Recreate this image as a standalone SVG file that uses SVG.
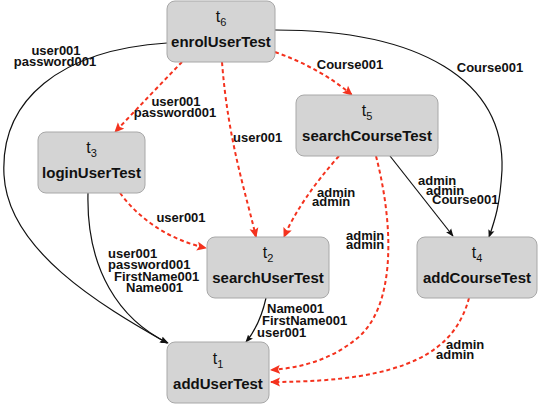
<svg xmlns="http://www.w3.org/2000/svg" width="538" height="404" viewBox="0 0 538 404">
<defs>
<style>
.node rect{fill:#d4d4d4;stroke:#a8a8a8;stroke-width:1}
.t{font-family:"Liberation Sans",Arial,sans-serif;font-size:16px;fill:#111;text-anchor:middle}
.sub{font-size:11px}
.nm{font-family:"Liberation Sans",Arial,sans-serif;font-size:15px;font-weight:bold;fill:#111;text-anchor:middle}
.lbl{font-family:"Liberation Sans",Arial,sans-serif;font-size:13px;font-weight:bold;fill:#111}
.mid{text-anchor:middle}
.blk{fill:none;stroke:#111;stroke-width:1.2;marker-end:url(#ab)}
.red{fill:none;stroke:#f4321e;stroke-width:2;stroke-dasharray:4 3;marker-end:url(#ar)}
</style>
<marker id="ab" viewBox="0 0 10 10" refX="9" refY="5" markerWidth="8" markerHeight="8" markerUnits="userSpaceOnUse" orient="auto">
<path d="M0,1 L10,5 L0,9 L2,5 z" fill="#111"/>
</marker>
<marker id="ar" viewBox="0 0 10 10" refX="9" refY="5" markerWidth="10" markerHeight="10" markerUnits="userSpaceOnUse" orient="auto">
<path d="M0,0.5 L10,5 L0,9.5 L2,5 z" fill="#f4321e"/>
</marker>
</defs>
<g id="connectors">
<path class="blk" d="M167,43 C60,50 0,100 4,175 S100,305 167,343"/>
<path class="red" d="M182,62 Q150,95 115,132"/>
<path class="red" d="M222,62 C228,140 245,190 256,237"/>
<path class="red" d="M275,52 Q320,68 352,95"/>
<path class="blk" d="M275,30 C420,30 505,80 502,170 C500,205 495,220 489,237"/>
<path class="red" d="M120,193 C140,220 170,240 206,248"/>
<path class="blk" d="M88,193 C86,270 120,320 168,343"/>
<path class="red" d="M339,156 Q300,200 284,237"/>
<path class="red" d="M376,156 C395,230 395,310 355,340 C330,360 300,368 271,370"/>
<path class="blk" d="M390,156 L453,236"/>
<path class="red" d="M469,298 C455,350 410,382 271,382"/>
<path class="blk" d="M266,298 Q260,325 246,342"/>
<text class="lbl mid" x="56" y="54.5">user001</text>
<text class="lbl mid" x="55" y="65.5">password001</text>
<text class="lbl mid" x="176" y="105.5">user001</text>
<text class="lbl mid" x="175" y="116.5">password001</text>
<text class="lbl" x="233" y="141.5">user001</text>
<text class="lbl mid" x="350" y="68.5">Course001</text>
<text class="lbl mid" x="490" y="71.5">Course001</text>
<text class="lbl mid" x="181" y="221.5">user001</text>
<text class="lbl" x="108" y="257.5">user001</text>
<text class="lbl" x="108" y="268.5">password001</text>
<text class="lbl" x="114" y="280.5">FirstName001</text>
<text class="lbl" x="126" y="291.5">Name001</text>
<text class="lbl" x="317" y="196.5">admin</text>
<text class="lbl" x="312" y="206">admin</text>
<text class="lbl" x="346" y="239.5">admin</text>
<text class="lbl" x="346" y="249">admin</text>
<text class="lbl" x="418" y="184.5">admin</text>
<text class="lbl" x="426" y="194.5">admin</text>
<text class="lbl" x="432" y="204">Course001</text>
<text class="lbl" x="446" y="348.5">admin</text>
<text class="lbl" x="436" y="358.5">admin</text>
<text class="lbl" x="267" y="312.5">Name001</text>
<text class="lbl" x="262" y="325">FirstName001</text>
<text class="lbl" x="257" y="337">user001</text>
</g>
<g id="t6" class="node">
<rect x="167" y="1" width="108" height="61" rx="8"/>
<text class="t" x="221" y="22">t<tspan class="sub" dy="4">6</tspan></text>
<text class="nm" x="221" y="47">enrolUserTest</text>
</g>
<g id="t3" class="node">
<rect x="38" y="132" width="107" height="61" rx="8"/>
<text class="t" x="91.5" y="153">t<tspan class="sub" dy="4">3</tspan></text>
<text class="nm" x="91.5" y="178">loginUserTest</text>
</g>
<g id="t5" class="node">
<rect x="296" y="95" width="142" height="61" rx="8"/>
<text class="t" x="367" y="116">t<tspan class="sub" dy="4">5</tspan></text>
<text class="nm" x="367" y="141">searchCourseTest</text>
</g>
<g id="t2" class="node">
<rect x="207" y="237" width="122" height="61" rx="8"/>
<text class="t" x="268" y="258">t<tspan class="sub" dy="4">2</tspan></text>
<text class="nm" x="268" y="283">searchUserTest</text>
</g>
<g id="t4" class="node">
<rect x="417" y="237" width="120" height="61" rx="8"/>
<text class="t" x="477" y="258">t<tspan class="sub" dy="4">4</tspan></text>
<text class="nm" x="477" y="283">addCourseTest</text>
</g>
<g id="t1" class="node">
<rect x="167" y="342" width="102" height="61" rx="8"/>
<text class="t" x="218" y="364">t<tspan class="sub" dy="4">1</tspan></text>
<text class="nm" x="218" y="388.5">addUserTest</text>
</g>
</svg>
